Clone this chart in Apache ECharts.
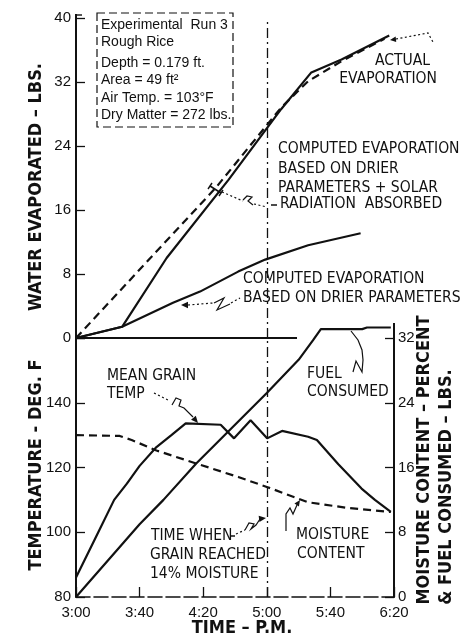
<!DOCTYPE html>
<html><head><meta charset="utf-8">
<script src="https://cdn.jsdelivr.net/npm/echarts@6/dist/echarts.min.js"></script>
<style>html,body{margin:0;padding:0;background:#fff}#c{width:468px;height:638px}</style>
</head><body><div id="c"></div>
<script>
// ---- data (x = minutes after 3:00 P.M.) ----
const timeTicks = ['3:00','3:40','4:20','5:00','5:40','6:20']; // every 40 min
const actualEvap = [[0,0],[88,18.8],[129,28.8],[146,32.1],[167,34.6],[194,37.4]];
const solarEvap  = [[0,0],[29,1.4],[57,10],[96,19.8],[129,28.6],[148,33.2],[167,34.8],[197,37.8]];
const drierEvap  = [[0,0],[29,1.4],[61,4.4],[78,5.8],[102,8.3],[119,9.8],[146,11.6],[179,13.1]];
const evapBase   = [[0,0],[139,0]];
const grainTemp  = [[0,86],[12,98],[24,110],[32,115],[40,120.5],[50.6,126.3],[60,130],[69,133.6],[91,133.2],[99.4,129],[109.8,134.6],[120.2,129],[129.6,131.3],[146,129.5],[151.5,128.5],[165,121],[179.6,113.5],[188,110],[198,106.3]];
const fuelUsed   = [[0,0],[40,9],[55,12],[75.6,16.5],[120,25.2],[140,29.3],[149,31.7],[154,33.1],[180,33.1],[183,33.3],[198,33.3]];
const moisture   = [[0,20],[27.5,19.9],[35,19.4],[50.6,18.1],[75.6,16.5],[102.5,14.8],[120,13.6],[146,11.7],[171,11],[198,10.5]];
const moistTime  = 120; // grain reached 14% moisture (5:00)

const NAR = "'Liberation Sans Narrow','DejaVu Sans Condensed','Liberation Sans',sans-serif";
const REG = "'Liberation Sans','DejaVu Sans',sans-serif";
const K = '#111';

const chart = echarts.init(document.getElementById('c'));

function txt(x, y, s, size, opt) {
  return Object.assign({type:'text', x:x, y:y, style:{text:s, fill:K, font: (opt&&opt.font)||(size+'px '+NAR), textAlign:(opt&&opt.align)||'left', textVerticalAlign:'middle'}}, opt&&opt.extra||{});
}
function pl(points, dashed, w) {
  return {type:'polyline', shape:{points:points}, style:{stroke:K, lineWidth:w||1.2, fill:null, lineDash: dashed ? [2,2.5] : null}};
}
function arrowHead(tip, from, size) {
  const dx = tip[0]-from[0], dy = tip[1]-from[1], L = Math.hypot(dx,dy);
  const ux = dx/L, uy = dy/L, s = size||6;
  const bx = tip[0]-ux*s, by = tip[1]-uy*s;
  return {type:'polygon', shape:{points:[tip,[bx-uy*s*0.45, by+ux*s*0.45],[bx+uy*s*0.45, by-ux*s*0.45]]}, style:{fill:K}};
}
function vtitle(x, y, s) {
  return {type:'text', x:x, y:y, rotation:Math.PI/2, style:{text:s, fill:K, font:'bold 18px '+NAR, textAlign:'center', textVerticalAlign:'middle'}};
}
const vline = {symbol:'none', silent:true, label:{show:false}, lineStyle:{color:K, width:1.3, type:[10,4,2,4]}, data:[{xAxis:moistTime}]};
const A = 15.5;

const graphics = [
  // info box
  {type:'rect', shape:{x:97, y:13, width:136, height:114}, style:{fill:null, stroke:K, lineWidth:1.2, lineDash:[8,4]}},
  txt(101, 25, 'Experimental  Run 3', 14, {font:'14px '+REG}),
  txt(101, 42, 'Rough Rice', 14, {font:'14px '+REG}),
  txt(101, 63, 'Depth = 0.179 ft.', 14, {font:'14px '+REG}),
  txt(101, 80, 'Area = 49 ft²', 14, {font:'14px '+REG}),
  txt(101, 98, 'Air Temp. = 103°F', 14, {font:'14px '+REG}),
  txt(101, 115, 'Dry Matter = 272 lbs.', 14, {font:'14px '+REG}),
  // actual evaporation
  txt(430, 61, 'ACTUAL', A, {align:'right'}),
  txt(437, 79, 'EVAPORATION', A, {align:'right'}),
  pl([[396,39],[428,33],[433,42]], true),
  arrowHead([390,40],[398,39],6),
  // computed + solar
  txt(278, 149, 'COMPUTED EVAPORATION', A),
  txt(278, 169, 'BASED ON DRIER', A),
  txt(278, 188, 'PARAMETERS + SOLAR', A),
  txt(280, 204, 'RADIATION  ABSORBED', A),
  pl([[271,205],[277,205]], false, 1.5),
  pl([[222,192],[243,201]], true),
  pl([[243,200],[247,196],[252,197],[248,201],[253,205]], false),
  pl([[254,204],[267,207]], true),
  pl([[210,186],[221,193]], false, 1.6),
  pl([[208,189],[212,183]], false, 1.4),
  pl([[219,196],[223,190]], false, 1.4),
  // computed drier only
  txt(243, 279, 'COMPUTED EVAPORATION', A),
  txt(243, 298, 'BASED ON DRIER PARAMETERS', A),
  pl([[188,305],[213,303]], true),
  pl([[214,303],[224,298],[217,310],[230,304]], false),
  pl([[231,303],[240,298]], true),
  arrowHead([181,305],[190,305],7),
  // mean grain temp
  txt(107, 376, 'MEAN GRAIN', A),
  txt(107, 394, 'TEMP', A),
  pl([[154,393],[170,401]], true),
  pl([[172,405],[176,398],[181,400],[179,406],[184,408],[193,417]], false),
  arrowHead([198,423],[192,416],7),
  // fuel consumed
  txt(307, 374, 'FUEL', A),
  txt(307, 392, 'CONSUMED', A),
  pl([[351,331],[358,340],[362,350],[363,360],[362,372],[356,361],[353,372]], false),
  // time when grain reached 14%
  txt(151, 536, 'TIME WHEN', A),
  txt(150, 555, 'GRAIN REACHED', A),
  txt(150, 574, '14% MOISTURE', A),
  pl([[230,536],[235,536]], false, 1.5),
  pl([[236,534],[245,530]], true),
  pl([[245,530],[249,523],[254,524],[251,529],[256,525],[260,519]], false),
  arrowHead([266,518],[258,519],7),
  // moisture content
  txt(296, 535, 'MOISTURE', A),
  txt(297, 554, 'CONTENT', A),
  pl([[286,531],[286,514],[290,508],[293,514],[297,505]], false),
  arrowHead([300,500],[296,506],6),
  // axis titles
  vtitle(36, 187, 'WATER EVAPORATED – LBS.'),
  vtitle(36, 465, 'TEMPERATURE - DEG. F'),
  vtitle(424, 460, 'MOISTURE CONTENT – PERCENT'),
  vtitle(446, 487, '& FUEL CONSUMED – LBS.'),
  txt(242, 628, 'TIME – P.M.', 18, {align:'center', font:'bold 18px '+NAR}),
  // axis extensions
  pl([[394,323],[394,338]], false, 2),
  pl([[76,14],[76,18]], false, 2),
  pl([[76,15],[82,15]], false, 1.4)
];

const axisLbl = {color:K, fontSize:15, fontFamily:REG};
const lineS = (name, data, xi, yi, dashed, extra) => Object.assign({
  name:name, type:'line', data:data, xAxisIndex:xi, yAxisIndex:yi, symbol:'none', smooth:false, clip:false,
  lineStyle:{color:K, width:2.2, type: dashed ? [8,5] : 'solid'}, silent:true
}, extra||{});

chart.setOption({
  backgroundColor:'#fff',
  animation:false,
  grid:[
    {left:76, right:74, top:18, height:320},
    {left:76, right:74, top:338, bottom:41}
  ],
  xAxis:[
    {gridIndex:0, type:'value', min:0, max:200, interval:40, show:false},
    {gridIndex:1, type:'value', min:0, max:200, interval:40,
     axisLine:{lineStyle:{color:K, width:1.6, type:[14,4]}},
     axisTick:{inside:true, length:10, lineStyle:{color:K, width:1.3}},
     axisLabel:Object.assign({margin:8, formatter:v => timeTicks[Math.round(v/40)]}, axisLbl),
     splitLine:{show:false}}
  ],
  yAxis:[
    {gridIndex:0, type:'value', min:0, max:40, interval:8,
     axisLine:{show:true, lineStyle:{color:K, width:2}},
     axisTick:{show:true, inside:true, length:9, lineStyle:{color:K, width:1.3}},
     axisLabel:Object.assign({margin:5}, axisLbl), splitLine:{show:false}},
    {gridIndex:1, type:'value', min:80, max:160, interval:20,
     axisLine:{show:true, lineStyle:{color:K, width:2}},
     axisTick:{show:true, inside:true, length:9, lineStyle:{color:K, width:1.3}},
     axisLabel:Object.assign({margin:5, formatter:v => v===160 ? '' : v}, axisLbl), splitLine:{show:false}},
    {gridIndex:1, type:'value', position:'right', min:0, max:32, interval:8,
     axisLine:{show:true, lineStyle:{color:K, width:2}},
     axisTick:{show:true, inside:true, length:9, lineStyle:{color:K, width:1.3}},
     axisLabel:Object.assign({margin:4}, axisLbl), splitLine:{show:false}}
  ],
  series:[
    lineS('Baseline', evapBase, 0, 0, false, {markLine:vline}),
    lineS('Actual Evaporation', actualEvap, 0, 0, true),
    lineS('Computed Evaporation (Drier Parameters + Solar Radiation)', solarEvap, 0, 0, false),
    lineS('Computed Evaporation (Drier Parameters)', drierEvap, 0, 0, false),
    lineS('Mean Grain Temp', grainTemp, 1, 1, false),
    lineS('Fuel Consumed', fuelUsed, 1, 2, false),
    lineS('Moisture Content', moisture, 1, 2, true, {markLine:vline})
  ],
  graphic:graphics
});
</script></body></html>
